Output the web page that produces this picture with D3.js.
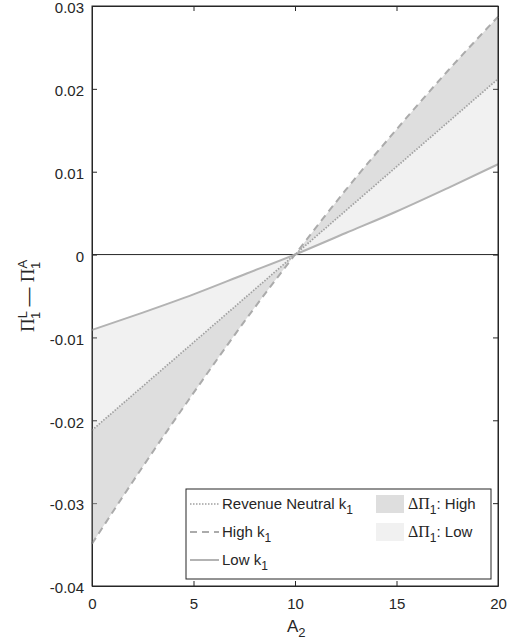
<!DOCTYPE html>
<meta charset="utf-8">
<script src="https://d3js.org/d3.v7.min.js"></script>
<style>
  body { margin: 0; background: #fff; }
  text { font-family: "Liberation Sans", Arial, sans-serif; fill: #262626; }
  .serif { font-family: "Liberation Serif", "Times New Roman", serif; }
</style>
<div id="chart"></div>
<script>
// values
var xVals      = [0, 2.5, 5, 7.5, 10, 12.5, 15, 17.5, 20];
var revNeutral = [-0.0212, -0.0159, -0.0106, -0.0053, 0, 0.0053, 0.0106, 0.0159, 0.0212];
var highK      = [-0.0349, -0.0256, -0.0167, -0.0081, 0, 0.0078, 0.0151, 0.0221, 0.0287];
var lowK       = [-0.0091, -0.0070, -0.0048, -0.0024, 0, 0.0026, 0.0052, 0.0080, 0.0109];
var xTicks = [0, 5, 10, 15, 20];
var yTicks = [-0.04, -0.03, -0.02, -0.01, 0, 0.01, 0.02, 0.03];

var margin = {top: 6, right: 10, bottom: 56, left: 92},
    width = 508 - margin.left - margin.right,
    height = 642 - margin.top - margin.bottom;

var svg = d3.select("#chart").append("svg")
    .attr("width", 508).attr("height", 642)
  .append("g")
    .attr("transform", "translate(" + margin.left + "," + margin.top + ")");

var x = d3.scaleLinear().domain([0, 20]).range([0, width]);
var y = d3.scaleLinear().domain([-0.04, 0.03]).range([height, 0]);

var data = xVals.map(function(v, i) {
  return {x: v, rn: revNeutral[i], hi: highK[i], lo: lowK[i]};
});

var axisCol = "#262626";
function fmt(d) { return Math.abs(d) < 1e-9 ? "0" : d.toFixed(2); }

// axes (ticks inside, box)
var gL = svg.append("g").call(d3.axisLeft(y).tickValues(yTicks).tickFormat(fmt).tickSizeInner(-5).tickSizeOuter(0).tickPadding(8));
var gR = svg.append("g").attr("transform", "translate(" + width + ",0)")
  .call(d3.axisRight(y).tickValues(yTicks).tickFormat("").tickSizeInner(-5).tickSizeOuter(0));
var gB = svg.append("g").attr("transform", "translate(0," + height + ")")
  .call(d3.axisBottom(x).tickValues(xTicks).tickSizeInner(-5).tickSizeOuter(0).tickPadding(12));
var gT = svg.append("g")
  .call(d3.axisTop(x).tickValues(xTicks).tickFormat("").tickSizeInner(-5).tickSizeOuter(0));
[gL, gR, gB, gT].forEach(function(g) {
  g.selectAll("path, line").attr("stroke", axisCol);
  g.selectAll("text").style("font-size", "15px").attr("fill", axisCol)
    .style("font-family", "'Liberation Sans', Arial, sans-serif");
});
// keep the top label inside the window
gL.selectAll("text").attr("dy", "0.45em");

// shaded areas
var areaHigh = d3.area().x(function(d) { return x(d.x); })
  .y0(function(d) { return y(d.rn); }).y1(function(d) { return y(d.hi); })
  .curve(d3.curveMonotoneX);
var areaLow = d3.area().x(function(d) { return x(d.x); })
  .y0(function(d) { return y(d.rn); }).y1(function(d) { return y(d.lo); })
  .curve(d3.curveMonotoneX);

var fillBase = "#b8b8b8", opHigh = 0.47, opLow = 0.2;

svg.append("path").datum(data).attr("d", areaHigh)
  .attr("fill", fillBase).attr("fill-opacity", opHigh);
svg.append("path").datum(data).attr("d", areaLow)
  .attr("fill", fillBase).attr("fill-opacity", opLow);

// zero line
svg.append("line").attr("x1", 0).attr("x2", width)
  .attr("y1", y(0)).attr("y2", y(0))
  .attr("stroke", axisCol).attr("stroke-width", 1);

// curves
function lineOf(key) {
  return d3.line().x(function(d) { return x(d.x); })
    .y(function(d) { return y(d[key]); })
    .curve(d3.curveMonotoneX);
}
var styles = {
  lo: {stroke: "#b3b3b3", width: 2, dash: null},
  hi: {stroke: "#ababab", width: 2, dash: "7,5"},
  rn: {stroke: "#a0a0a0", width: 1.7, dash: "1.5,1.5"}
};
["lo", "hi", "rn"].forEach(function(k) {
  svg.append("path").datum(data).attr("d", lineOf(k))
    .attr("fill", "none").attr("stroke", styles[k].stroke)
    .attr("stroke-width", styles[k].width)
    .attr("stroke-dasharray", styles[k].dash);
});

// box border on top
svg.append("rect").attr("width", width).attr("height", height)
  .attr("fill", "none").attr("stroke", axisCol).attr("stroke-width", 1);

// axis labels
var xl = svg.append("text").attr("x", x(10) - 8).attr("y", height + 46)
  .style("font-size", "17px");
xl.append("tspan").text("A");
xl.append("tspan").attr("dy", 5).style("font-size", "13px").text("2");

var yl = svg.append("text")
  .attr("transform", "translate(" + (-58) + "," + (y(-0.005)) + ") rotate(-90)")
  .attr("text-anchor", "middle").style("font-size", "19px");
yl.append("tspan").attr("class", "serif").text("\u03A0");
yl.append("tspan").attr("dy", -7).style("font-size", "13px").text("L");
yl.append("tspan").attr("dx", -8).attr("dy", 13).style("font-size", "13px").text("1");
yl.append("tspan").attr("dy", -6).text(" \u2014 ");
yl.append("tspan").attr("class", "serif").text("\u03A0");
yl.append("tspan").attr("dy", -7).style("font-size", "13px").text("A");
yl.append("tspan").attr("dx", -9).attr("dy", 13).style("font-size", "13px").text("1");

// legend
var lgX = 186 - margin.left, lgY = 489 - margin.top, lgW = 305, lgH = 90;
var lg = svg.append("g").attr("transform", "translate(" + lgX + "," + lgY + ")");
lg.append("rect").attr("width", lgW).attr("height", lgH)
  .attr("fill", "#fff").attr("stroke", axisCol).attr("stroke-width", 1);

var lineItems = [
  {key: "rn", label: "Revenue Neutral k"},
  {key: "hi", label: "High k"},
  {key: "lo", label: "Low k"}
];
lineItems.forEach(function(it, i) {
  var cy = 15 + i * 28;
  lg.append("line").attr("x1", 4).attr("x2", 33).attr("y1", cy).attr("y2", cy)
    .attr("stroke", styles[it.key].stroke).attr("stroke-width", styles[it.key].width)
    .attr("stroke-dasharray", styles[it.key].dash);
  var t = lg.append("text").attr("x", 36).attr("y", cy + 5).style("font-size", "15px");
  t.append("tspan").text(it.label);
  t.append("tspan").attr("dy", 5).style("font-size", "12px").text("1");
});

var patchItems = [
  {op: opHigh, label: "High"},
  {op: opLow, label: "Low"}
];
patchItems.forEach(function(it, i) {
  var cy = 15 + i * 28;
  lg.append("rect").attr("x", 190).attr("y", cy - 9).attr("width", 28).attr("height", 18)
    .attr("fill", fillBase).attr("fill-opacity", it.op);
  var t = lg.append("text").attr("x", 222).attr("y", cy + 5).style("font-size", "15px");
  t.append("tspan").attr("class", "serif").style("font-size", "16px").text("\u0394\u03A0");
  t.append("tspan").attr("dy", 5).style("font-size", "12px").text("1");
  t.append("tspan").attr("dy", -5).text(": " + it.label);
});
</script>
